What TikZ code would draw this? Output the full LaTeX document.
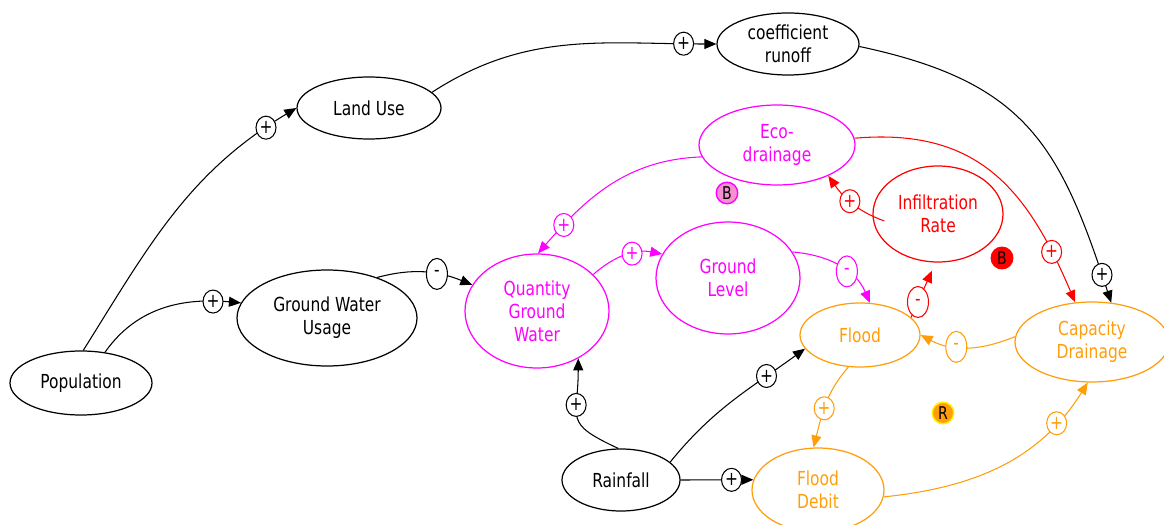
\documentclass[tikz,border=0pt]{standalone}
\usepackage{fontspec}
\setmainfont{DejaVu Sans}[FakeStretch=0.8]
\usetikzlibrary{shapes.geometric, arrows.meta}
\definecolor{ecomag}{RGB}{255,0,255}
\definecolor{infred}{RGB}{255,0,0}
\definecolor{floodor}{RGB}{255,158,10}
\definecolor{loopB}{RGB}{245,145,210}

\begin{document}
\begin{tikzpicture}[x=0.2mm, y=-0.2mm, >={Triangle[length=2.4mm,width=2mm]},
  var/.style={ellipse, draw, line width=0.7pt, inner sep=1pt, align=center,
    font=\fontsize{11}{13}\selectfont},
  link/.style={->, line width=0.6pt},
  pol/.style={ellipse, draw, fill=white, line width=0.6pt, inner sep=0pt,
    minimum width=4mm, minimum height=4.6mm, font=\fontsize{11}{11}\selectfont},
  neg/.style={pol, minimum width=4.2mm, minimum height=6.2mm},
  loopmark/.style={circle, draw, line width=0.8pt, inner sep=0pt,
    minimum size=4.3mm, font=\fontsize{10}{10}\selectfont}]
\useasboundingbox (0,0) rectangle (1164,525);

% variables
\node[var, minimum width=28.4mm, minimum height=12.8mm] (pop) at (81,383) {Population};
\node[var, minimum width=28.8mm, minimum height=12.4mm] (landuse) at (369,108) {Land Use};
\node[var, minimum width=28.4mm, minimum height=12.4mm] (coef) at (788,44) {coefficient\\runoff};
\node[var, minimum width=36mm, minimum height=19.2mm] (gwu) at (327,318) {Ground Water\\Usage};
\node[var, ecomag, minimum width=28.8mm, minimum height=22.8mm] (qgw) at (537,311) {Quantity\\Ground\\Water};
\node[var, ecomag, minimum width=31.2mm, minimum height=16mm] (eco) at (777,145) {Eco-\\drainage};
\node[var, infred, minimum width=26mm, minimum height=19.2mm] (infil) at (938,214) {Infiltration\\Rate};
\node[var, ecomag, minimum width=28.8mm, minimum height=22.4mm] (glevel) at (728,278) {Ground\\Level};
\node[var, floodor, minimum width=24mm, minimum height=12.8mm] (flood) at (860,335) {Flood};
\node[var, floodor, minimum width=30.8mm, minimum height=16mm] (capdr) at (1092,342) {Capacity\\Drainage};
\node[var, minimum width=23.6mm, minimum height=12.4mm] (rain) at (621,480) {Rainfall};
\node[var, floodor, minimum width=26.4mm, minimum height=16.8mm] (fdebit) at (818,490) {Flood\\Debit};

% loop markers
\node[loopmark, draw=ecomag, fill=loopB] (loopB1) at (727,193) {B};
\node[loopmark, draw=infred, fill=infred] (loopB2) at (1002,258) {B};
\node[loopmark, draw=yellow, fill=floodor] (loopR) at (943,413) {R};

% black links
\draw[link] (pop.86) to[out=58,in=211] node[pol,pos=0.9]{+} (landuse.180);
\draw[link] (pop.52) to[out=55,in=175] node[pol,pos=0.83]{+} (gwu.170);
\draw[link] (landuse.14) to[out=33,in=180] node[pol,pos=0.9]{+} (coef.180);
\draw[link] (coef.-2) to[out=-12,in=108,looseness=1.2] node[pol,pos=0.94]{+} (capdr.64);
\draw[link] (gwu.39) to[out=15,in=158] node[neg,pos=0.63]{-} (qgw.158);
\draw[link] (rain.95) to[out=155,in=-90,looseness=1.6] node[pol,pos=0.65]{+} (qgw.-49);
\draw[link] (rain.20) to[out=51,in=216] node[pol,pos=0.75]{+} (flood.194);
\draw[link] (rain.east) -- node[pol,pos=0.7]{+} (fdebit.171);

% magenta links
\draw[link,ecomag] (qgw.33) to[out=41,in=169] node[pol,pos=0.6]{+} (glevel.160);
\draw[link,ecomag] (glevel.22) to[out=-5,in=113] node[neg,pos=0.6]{-} (flood.73);
\draw[link,ecomag] (eco.189) to[out=182,in=49] node[pol,pos=0.82]{+} (qgw.89);

% red links
\draw[link,infred] (eco.5) to[out=5,in=113,looseness=1.15] node[pol,pos=0.84]{+} (capdr.113);
\draw[link,infred] ([shift={(2.4mm,-1.4mm)}]infil.west) to[out=160,in=-55] node[pol,pos=0.55]{+} (eco.-31);
\draw[link,infred] (flood.19) -- node[neg,pos=0.33]{-} ([shift={(-1.2mm,-1.6mm)}]infil.south);

% orange links
\draw[link,floodor] (flood.250) to[out=229,in=76] node[pol,pos=0.55]{+} (fdebit.96);
\draw[link,floodor] (capdr.176) to[out=202,in=-28] node[neg,pos=0.62]{-} (flood.east);
\draw[link,floodor] (fdebit.-6) to[out=6,in=238] node[pol,pos=0.8]{+} (capdr.264);
\end{tikzpicture}
\end{document}
